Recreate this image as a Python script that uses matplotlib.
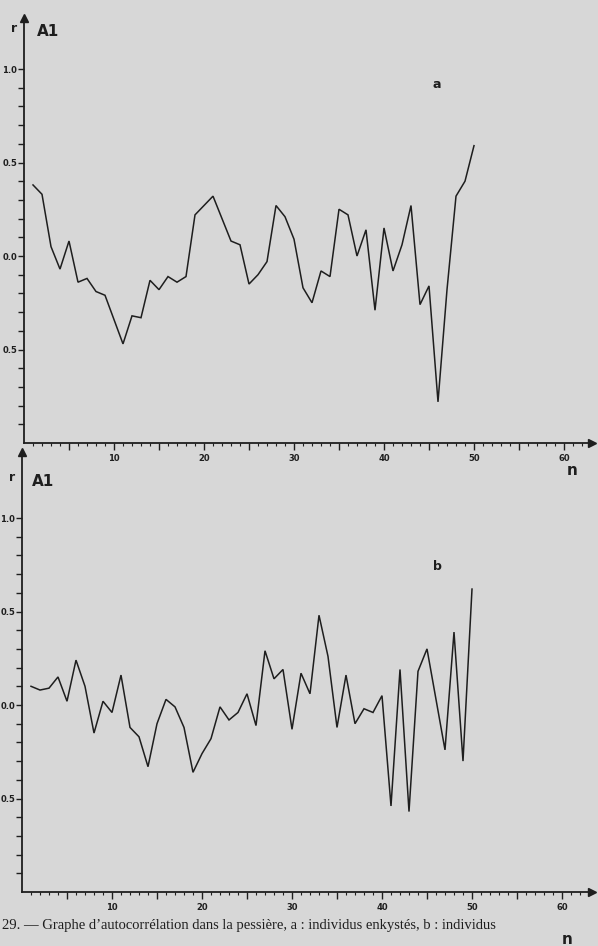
"""
Autocorrelation graphs (Fig. 29), panels a and b, redrawn from the scanned figure.
"""
import numpy as np
import matplotlib
matplotlib.use("Agg")
import matplotlib.pyplot as plt
from matplotlib.ticker import FixedLocator, FixedFormatter

W, H = 598, 946
BG = "#d7d7d7"
INK = "#1e1e1e"

# ---------------------------------------------------------------------------
# Data (tilt removed)
# ---------------------------------------------------------------------------
lags_a = list(range(1, 51))
r_a = [0.38, 0.33, 0.05, -0.07, 0.08, -0.14, -0.12, -0.19, -0.21, -0.34,
       -0.47, -0.32, -0.33, -0.13, -0.18, -0.11, -0.14, -0.11, 0.22, 0.27,
       0.32, 0.20, 0.08, 0.06, -0.15, -0.10, -0.03, 0.27, 0.21, 0.09,
       -0.17, -0.25, -0.08, -0.11, 0.25, 0.22, 0.00, 0.14, -0.29, 0.15,
       -0.08, 0.06, 0.27, -0.26, -0.16, -0.78, -0.18, 0.32, 0.40, 0.59]

lags_b = list(range(1, 46)) + [47, 48, 49, 50]
r_b = [0.10, 0.08, 0.09, 0.15, 0.02, 0.24, 0.10, -0.15, 0.02, -0.04,
       0.16, -0.12, -0.17, -0.33, -0.10, 0.03, -0.01, -0.12, -0.36, -0.26,
       -0.18, -0.01, -0.08, -0.04, 0.06, -0.11, 0.29, 0.14, 0.19, -0.13,
       0.17, 0.06, 0.48, 0.26, -0.12, 0.16, -0.10, -0.02, -0.04, 0.05,
       -0.54, 0.19, -0.57, 0.18, 0.30, -0.24, 0.39, -0.30, 0.62]

y_major = [-0.5, 0.0, 0.5, 1.0]
y_major_labels = ["0.5", "0.0", "0.5", "1.0"]
x_labeled = [10, 20, 30, 40, 50, 60]

caption = "29. \u2014 Graphe d\u2019autocorr\u00e9lation dans la pessi\u00e8re, a : individus enkyst\u00e9s, b : individus"


def frac(x, y):
    return x / W, 1 - y / H


def make_panel(fig, left, right, bottom, top, px_per_n, lags, r, letter, r_pos, a1_pos, letter_pos, n_pos):
    px_per_r = 187.0
    x0, y0 = frac(left, bottom)
    ax = fig.add_axes([x0, y0, (right - left) / W, (bottom - top) / H])
    ax.set_facecolor("none")
    ax.set_xlim(0, (right - left) / px_per_n)
    ax.set_ylim(-1.0, -1.0 + (bottom - top) / px_per_r)

    ax.plot(lags, r, color=INK, lw=1.1, solid_joinstyle="miter")

    for s in ["top", "right"]:
        ax.spines[s].set_visible(False)
    for s in ["left", "bottom"]:
        ax.spines[s].set_color(INK)
        ax.spines[s].set_linewidth(1.3)

    # arrow heads on the axes
    ax.plot(1, 0, ">", color=INK, ms=6, transform=ax.transAxes, clip_on=False)
    ax.plot(0, 1, "^", color=INK, ms=6, transform=ax.transAxes, clip_on=False)

    # y ticks
    ax.yaxis.set_major_locator(FixedLocator(y_major))
    ax.yaxis.set_major_formatter(FixedFormatter(y_major_labels))
    ax.yaxis.set_minor_locator(FixedLocator([v / 10 for v in range(-9, 10)]))
    ax.tick_params(axis="y", which="both", direction="out", length=4, width=1.0,
                   color=INK, labelsize=6, pad=1)
    # x ticks
    ax.xaxis.set_major_locator(FixedLocator(list(range(5, 65, 5))))
    ax.xaxis.set_major_formatter(FixedFormatter(
        [str(v) if v in x_labeled else "" for v in range(5, 65, 5)]))
    ax.xaxis.set_minor_locator(FixedLocator(list(range(1, 63))))
    ax.tick_params(axis="x", which="major", direction="out", length=5, width=1.0,
                   color=INK, labelsize=6, pad=3)
    ax.tick_params(axis="x", which="minor", direction="out", length=2.5, width=0.8, color=INK)
    for lab in ax.get_xticklabels() + ax.get_yticklabels():
        lab.set_fontweight("bold")
        lab.set_color(INK)

    fig.text(*frac(*r_pos), "r", fontsize=9, fontweight="bold", color=INK, ha="center", va="center")
    fig.text(*frac(*a1_pos), "A1", fontsize=11, fontweight="bold", color=INK, ha="left", va="center")
    fig.text(*frac(*letter_pos), letter, fontsize=9, fontweight="bold", color=INK, ha="center", va="center")
    fig.text(*frac(*n_pos), "n", fontsize=11, fontweight="bold", color=INK, ha="center", va="center")
    return ax


fig = plt.figure(figsize=(W / 100, H / 100), dpi=100, facecolor=BG)

make_panel(fig, left=24, right=592, bottom=443, top=18, px_per_n=9.0,
           lags=lags_a, r=r_a, letter="a",
           r_pos=(14, 29), a1_pos=(37, 32), letter_pos=(437, 85), n_pos=(572, 470))

make_panel(fig, left=22, right=592, bottom=892, top=452, px_per_n=9.0,
           lags=lags_b, r=r_b, letter="b",
           r_pos=(12, 477), a1_pos=(32, 481), letter_pos=(437, 566), n_pos=(567, 939))

fig.text(*frac(2, 925), caption, fontsize=10.5, family="Liberation Serif",
         color=INK, ha="left", va="center")

fig.savefig("out.png", dpi=100, facecolor=BG)
